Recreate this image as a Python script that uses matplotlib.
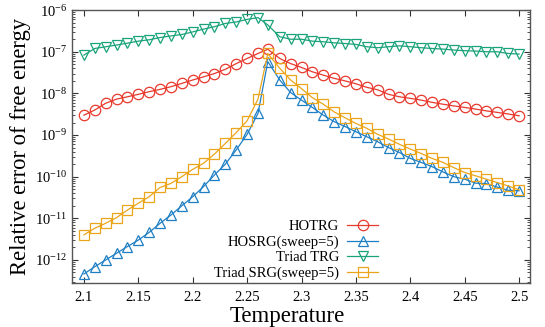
import matplotlib
matplotlib.use("Agg")
import matplotlib.pyplot as plt
from matplotlib.ticker import FixedLocator, NullFormatter

plt.rcParams['font.family'] = ['Liberation Serif', 'DejaVu Serif']
plt.rcParams['mathtext.fontset'] = 'custom'
plt.rcParams['mathtext.rm'] = 'Liberation Serif'
plt.rcParams['mathtext.it'] = 'Liberation Serif:italic'

# temperatures (the one odd point is T_c)
temps = [2.10, 2.11, 2.12, 2.13, 2.14, 2.15, 2.16, 2.17, 2.18, 2.19, 2.20,
         2.21, 2.22, 2.23, 2.24, 2.25, 2.26, 2.269, 2.28, 2.29, 2.30, 2.31,
         2.32, 2.33, 2.34, 2.35, 2.36, 2.37, 2.38, 2.39, 2.40, 2.41, 2.42,
         2.43, 2.44, 2.45, 2.46, 2.47, 2.48, 2.49, 2.50]

hotrg = [3.0e-9, 4.0e-9, 5.8e-9, 7.3e-9, 8.3e-9, 9.5e-9, 1.1e-8, 1.25e-8, 1.45e-8,
         1.74e-8, 2.1e-8, 2.5e-8, 3.0e-8, 3.8e-8, 5.2e-8, 6.9e-8, 9.1e-8, 1.15e-7,
         6.9e-8, 5.2e-8, 4.2e-8, 3.3e-8, 2.75e-8, 2.3e-8, 2.0e-8, 1.7e-8, 1.4e-8,
         1.22e-8, 9.5e-9, 8.3e-9, 7.6e-9, 6.9e-9, 6.1e-9, 5.5e-9, 5.0e-9, 4.6e-9,
         4.2e-9, 3.8e-9, 3.5e-9, 3.2e-9, 2.9e-9]

hosrg = [4.6e-13, 6.9e-13, 1.0e-12, 1.45e-12, 2.1e-12, 3.0e-12, 4.6e-12, 7.6e-12,
         1.2e-11, 2.0e-11, 3.3e-11, 5.8e-11, 1.1e-10, 2.0e-10, 4.4e-10, 1.04e-9,
         3.3e-9, 5.8e-8, 2.1e-8, 1.05e-8, 6.9e-9, 4.6e-9, 3.0e-9, 2.1e-9, 1.6e-9,
         1.2e-9, 9.1e-10, 6.9e-10, 5.0e-10, 3.8e-10, 2.75e-10, 2.2e-10, 1.74e-10,
         1.3e-10, 1.0e-10, 8.7e-11, 7.0e-11, 6.8e-11, 5.6e-11, 4.7e-11, 4.6e-11]

triad_trg = [8.3e-8, 1.2e-7, 1.32e-7, 1.45e-7, 1.61e-7, 1.8e-7, 1.94e-7, 2.2e-7,
             2.4e-7, 2.6e-7, 3.0e-7, 3.5e-7, 4.0e-7, 4.8e-7, 5.2e-7, 6.0e-7, 6.6e-7,
             4.4e-7, 2.3e-7, 2.0e-7, 2.0e-7, 1.8e-7, 1.74e-7, 1.64e-7, 1.58e-7,
             1.5e-7, 1.32e-7, 1.25e-7, 1.32e-7, 1.39e-7, 1.32e-7, 1.25e-7, 1.2e-7,
             1.16e-7, 1.1e-7, 1.06e-7, 1.04e-7, 1.0e-7, 1.0e-7, 9.1e-8, 8.8e-8]

triad_srg = [4.0e-12, 5.8e-12, 7.6e-12, 1.04e-11, 1.58e-11, 2.3e-11, 3.3e-11, 5.5e-11,
             6.9e-11, 1.0e-10, 1.5e-10, 2.1e-10, 3.5e-10, 6.3e-10, 1.15e-9, 2.2e-9,
             7.3e-9, 9.1e-8, 4.0e-8, 2.1e-8, 1.3e-8, 7.9e-9, 5.5e-9, 3.6e-9, 2.6e-9,
             1.9e-9, 1.45e-9, 1.04e-9, 8.0e-10, 6.0e-10, 4.6e-10, 3.6e-10, 2.75e-10,
             2.2e-10, 1.65e-10, 1.26e-10, 1.05e-10, 8.7e-11, 7.2e-11, 6.0e-11, 4.8e-11]

xticks = [2.1, 2.15, 2.2, 2.25, 2.3, 2.35, 2.4, 2.45, 2.5]
xticklabels = ['2.1', '2.15', '2.2', '2.25', '2.3', '2.35', '2.4', '2.45', '2.5']
yexps = [-12, -11, -10, -9, -8, -7, -6]

series = [
    ("HOTRG", hotrg, 'o', '#e8392e', 7.5),
    ("HOSRG(sweep=5)", hosrg, '^', '#1f7fc4', 7.5),
    ("Triad TRG", triad_trg, 'v', '#1aa37a', 7.5),
    ("Triad SRG(sweep=5)", triad_srg, 's', '#eba51a', 7.5),
]

fig = plt.figure(figsize=(5.45, 3.27), dpi=100)
ax = fig.add_axes([0.132, 0.135, 0.8405, 0.834])

for label, vals, mk, col, ms in series:
    ax.plot(temps, vals, marker=mk, color=col, lw=0.9, ms=ms,
            mfc='none', mec=col, mew=0.9, label=label)

ax.set_yscale('log')
ax.set_xlim(2.089, 2.510)
ax.set_ylim(10**-12.55, 1e-6)
ax.set_xticks(xticks)
ax.set_xticklabels(xticklabels)
ax.set_yticks([10.0**e for e in yexps])
ax.set_yticklabels(['$10^{%d}$' % e for e in yexps])
minors = [m * 10.0**e for e in range(-13, -6) for m in range(2, 10)
          if 10**-12.55 < m * 10.0**e < 1e-6]
ax.yaxis.set_minor_locator(FixedLocator(minors))
ax.yaxis.set_minor_formatter(NullFormatter())

ax.tick_params(which='both', direction='in', top=True, right=True, labelsize=10.5,
               color='#333333')
ax.tick_params(which='major', length=4)
ax.tick_params(which='minor', length=2)
ax.tick_params(axis='x', pad=6)
for sp in ax.spines.values():
    sp.set_color('#555555')
    sp.set_linewidth(1.0)

ax.set_xlabel('Temperature', fontsize=16.5, labelpad=1)
ax.xaxis.set_label_coords(0.47, -0.085)
ax.set_ylabel('Relative error of free energy', fontsize=16.3, labelpad=3)

leg = ax.legend(loc='lower right', bbox_to_anchor=(0.668, 0.01),
                markerfirst=False, frameon=False, fontsize=10.5,
                handlelength=2.1, handletextpad=0.55, labelspacing=0.15,
                borderaxespad=0.0, borderpad=0.0)
for col in leg._legend_handle_box.get_children():
    col.align = 'right'

fig.savefig('out.png', dpi=100)
